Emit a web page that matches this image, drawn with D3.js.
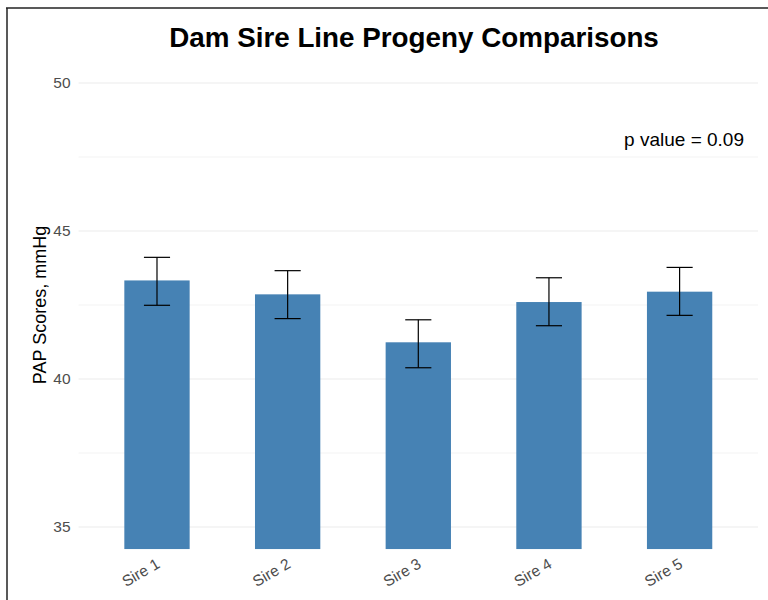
<!DOCTYPE html>
<html>
<head>
<meta charset="utf-8">
<script src="https://cdn.jsdelivr.net/npm/d3@7"></script>
<style>
  body { margin: 0; background: #fff; }
  svg { display: block; font-family: "Liberation Sans", Arial, sans-serif; }
</style>
</head>
<body>
<script>
// data
var sires = ["Sire 1", "Sire 2", "Sire 3", "Sire 4", "Sire 5"];
var means = [43.33, 42.86, 41.24, 42.60, 42.95];
var lower = [42.49, 42.04, 40.38, 41.80, 42.15];
var upper = [44.11, 43.66, 42.00, 43.42, 43.77];
var yTicks = [35, 40, 45, 50];
var yMinor = [37.5, 42.5, 47.5];

var width = 768, height = 600;
var margin = {top: 60.8, right: 10, bottom: 50.8, left: 78.6};

var svg = d3.select("body").append("svg")
  .attr("width", width)
  .attr("height", height);

// panel scales
var x = d3.scaleBand()
  .domain(sires)
  .range([margin.left, width - margin.right])
  .paddingInner(0.5)
  .paddingOuter(0.35);

var y = d3.scaleLinear()
  .domain([34.25, 50.75])
  .range([height - margin.bottom, margin.top]);

var step = x.step();

// grid lines
svg.append("g").selectAll("line.minor")
  .data(yMinor)
  .enter().append("line")
  .attr("x1", margin.left).attr("x2", width - margin.right)
  .attr("y1", function(d) { return y(d); })
  .attr("y2", function(d) { return y(d); })
  .attr("stroke", "#EBEBEB").attr("stroke-width", 0.6);

svg.append("g").selectAll("line.major")
  .data(yTicks)
  .enter().append("line")
  .attr("x1", margin.left).attr("x2", width - margin.right)
  .attr("y1", function(d) { return y(d); })
  .attr("y2", function(d) { return y(d); })
  .attr("stroke", "#EBEBEB").attr("stroke-width", 1.1);

// y axis tick labels
var yAxis = d3.axisLeft(y).tickValues(yTicks).tickSize(0).tickPadding(8);
var gy = svg.append("g")
  .attr("transform", "translate(" + margin.left + ",0)")
  .call(yAxis);
gy.select(".domain").remove();
gy.attr("font-size", null).attr("font-family", null);
gy.selectAll("text")
  .style("font-size", "15.5px")
  .attr("fill", "#4D4D4D");

// bars, clipped at the panel bottom
svg.append("defs").append("clipPath").attr("id", "panel")
  .append("rect")
  .attr("x", margin.left).attr("y", margin.top)
  .attr("width", width - margin.right - margin.left)
  .attr("height", height - margin.bottom - margin.top);

svg.append("g").attr("clip-path", "url(#panel)")
  .selectAll("rect")
  .data(sires)
  .enter().append("rect")
  .attr("x", function(d) { return x(d); })
  .attr("width", x.bandwidth())
  .attr("y", function(d, i) { return y(means[i]); })
  .attr("height", function(d, i) { return y(34.25) - y(means[i]); })
  .attr("fill", "steelblue");

// error bars
var eb = svg.append("g").selectAll("g")
  .data(sires)
  .enter().append("g")
  .attr("stroke", "#000")
  .attr("stroke-width", 1.2);

eb.append("line")
  .attr("x1", function(d) { return x(d) + x.bandwidth() / 2; })
  .attr("x2", function(d) { return x(d) + x.bandwidth() / 2; })
  .attr("y1", function(d, i) { return y(lower[i]); })
  .attr("y2", function(d, i) { return y(upper[i]); });

eb.selectAll("line.cap")
  .data(function(d) {
    var i = sires.indexOf(d);
    return [[d, upper[i]], [d, lower[i]]];
  })
  .enter().append("line")
  .attr("class", "cap")
  .attr("x1", function(d) { return x(d[0]) + x.bandwidth() / 2 - step * 0.1; })
  .attr("x2", function(d) { return x(d[0]) + x.bandwidth() / 2 + step * 0.1; })
  .attr("y1", function(d) { return y(d[1]); })
  .attr("y2", function(d) { return y(d[1]); });

// x axis labels, rotated
svg.append("g").selectAll("text")
  .data(sires)
  .enter().append("text")
  .attr("transform", function(d) {
    return "translate(" + (x(d) + x.bandwidth() / 2 + 4) + ",567) rotate(-30)";
  })
  .attr("text-anchor", "end")
  .attr("font-size", "15.5px")
  .attr("fill", "#4D4D4D")
  .text(function(d) { return d; });

// y axis title
svg.append("text")
  .attr("transform", "translate(46," + ((margin.top + height - margin.bottom) / 2) + ") rotate(-90)")
  .attr("text-anchor", "middle")
  .attr("font-size", "18px")
  .attr("fill", "#000")
  .text("PAP Scores, mmHg");

// title
svg.append("text")
  .attr("x", 414)
  .attr("y", 47)
  .attr("text-anchor", "middle")
  .attr("font-size", "27.8px")
  .attr("font-weight", "bold")
  .attr("fill", "#000")
  .text("Dam Sire Line Progeny Comparisons");

// p value note
svg.append("text")
  .attr("x", 744)
  .attr("y", 146)
  .attr("text-anchor", "end")
  .attr("font-size", "19px")
  .attr("fill", "#000")
  .text("p value = 0.09");

// outer frame lines
svg.append("line")
  .attr("x1", 6).attr("x2", width).attr("y1", 8).attr("y2", 8)
  .attr("stroke", "#222").attr("stroke-width", 1.5);
svg.append("line")
  .attr("x1", 7).attr("x2", 7).attr("y1", 8).attr("y2", height)
  .attr("stroke", "#222").attr("stroke-width", 1.5);
</script>
</body>
</html>
